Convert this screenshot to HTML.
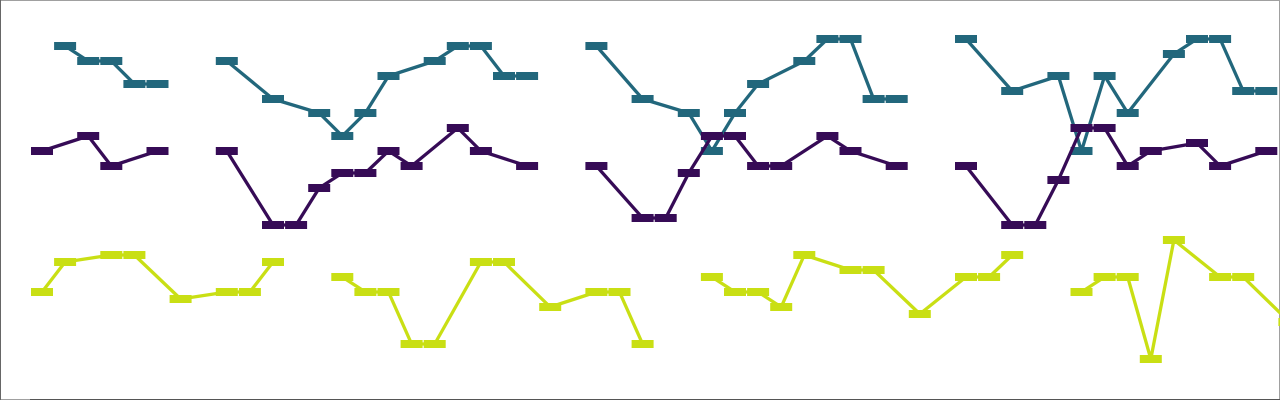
<!DOCTYPE html>
<html><head><meta charset="utf-8"><style>
html,body{margin:0;padding:0;background:#fff;}
#wrap{position:relative;width:1280px;height:400px;overflow:hidden;}
svg{display:block;}
</style></head><body>
<div id="wrap">
<svg id="chart" width="1280" height="400"></svg>
</div>
<script>
// x positions are category indices; null breaks the line
const purpleX = [0,2,3,5,null,8,10,11,12,13,14,15,16,18,19,21,null,24,26,27,28,29,30,31,32,34,35,37,null,40,42,43,44,45,46,47,48,50,51,53];
const purpleV = [249,264,234,249,null,249,175,175,212,227,227,249,234,272,249,234,null,234,182,182,227,264,264,234,234,264,249,234,null,234,175,175,220,272,272,234,249,257,234,249];
const tealX = [1,2,3,4,5,null,8,10,12,13,14,15,17,18,19,20,21,null,24,26,28,29,30,31,33,34,35,36,37,null,40,42,44,45,46,47,49,50,51,52,53];
const tealV = [354,339,339,316,316,null,339,301,287,264,287,324,339,354,354,324,324,null,354,301,287,249,287,316,339,361,361,301,301,null,361,309,324,249,324,287,346,361,361,309,309];
const yellowX = [0,1,3,4,6,8,9,10,null,13,14,15,16,17,19,20,22,24,25,26,null,29,30,31,32,33,35,36,38,40,41,42,null,45,46,47,48,49,51,52,54];
const yellowV = [108,138,145,145,101,108,108,138,null,123,108,108,56,56,138,138,93,108,108,56,null,123,108,108,93,145,130,130,86,123,123,145,null,108,123,123,41,160,123,123,78];

const NS='http://www.w3.org/2000/svg';
const svg=document.getElementById('chart');
const xs = i => 42 + i*23.1;
const ys = v => 400 - v;

function mk(tag, attrs){const e=document.createElementNS(NS,tag);for(const k in attrs)e.setAttribute(k,attrs[k]);return e;}

const frame=mk('rect',{x:0.5,y:0.5,width:1279,height:399,fill:'none',stroke:'#a0a0a0','stroke-width':1});


svg.appendChild(frame);
const yaxis=mk('line',{x1:0.5,y1:0,x2:0.5,y2:400,stroke:'#666','stroke-width':1});


svg.appendChild(yaxis);
const xaxis=mk('line',{x1:30,y1:399.5,x2:1280,y2:399.5,stroke:'#555','stroke-width':1});


svg.appendChild(xaxis);

function drawSeries(X,V,color,name){
  const g=mk('g',{});
  
  
  svg.appendChild(g);
  let d='',pen=false;
  for(let k=0;k<X.length;k++){
    if(X[k]===null||V[k]===null){pen=false;continue;}
    d+=(pen?'L':'M')+xs(X[k]).toFixed(1)+' '+ys(V[k]).toFixed(1)+' ';
    pen=true;
  }
  const p=mk('path',{d:d,fill:'none',stroke:color,'stroke-width':3.3,'stroke-linejoin':'round'});
  
  
  g.appendChild(p);
  for(let k=0;k<X.length;k++){
    if(X[k]===null||V[k]===null)continue;
    const r=mk('rect',{x:xs(X[k])-11,y:ys(V[k])-4,width:22,height:8,fill:color});
    
    
    g.appendChild(r);
  }
}
drawSeries(tealX,tealV,'#22677c','teal');
drawSeries(purpleX,purpleV,'#360b56','purple');
drawSeries(yellowX,yellowV,'#c9df14','yellow');
</script>
</body></html>
